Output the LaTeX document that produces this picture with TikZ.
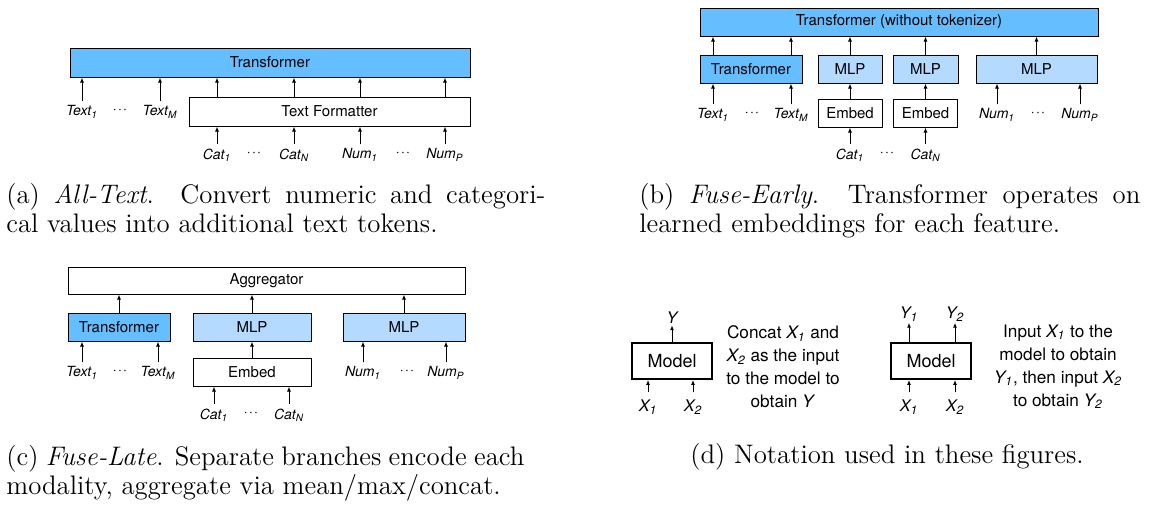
\documentclass[tikz,border=0pt]{standalone}
\usepackage{fontspec}
\newfontfamily\hvfont{TeX Gyre Heros}
\usetikzlibrary{arrows.meta}
\definecolor{tfblue}{RGB}{100,190,255}
\definecolor{mlpblue}{RGB}{180,218,255}
\newcommand{\lab}[2]{#1\textsubscript{#2}}
\newcommand{\dotrow}{·\kern0.6pt·\kern0.6pt·}

\begin{document}
\begin{tikzpicture}[x=0.5pt,y=-0.5pt,
    box/.style={draw,line width=0.5pt,inner sep=0pt,minimum height=14pt,
      font=\hvfont\fontsize{7.5}{9}\selectfont},
    dark/.style={box,fill=tfblue},
    light/.style={box,fill=mlpblue},
    lbl/.style={inner sep=2pt,font=\hvfont\itshape\fontsize{7}{8}\selectfont},
    dts/.style={inner sep=0pt,font=\hvfont\fontsize{7}{8}\selectfont},
    arr/.style={-{Latex[length=2.5pt,width=2pt]},line width=0.5pt},
    model/.style={draw,line width=0.9pt,inner sep=0pt,minimum width=40pt,
      minimum height=18pt,font=\hvfont\fontsize{9}{11}\selectfont},
    var/.style={inner sep=0.5pt,font=\hvfont\itshape\fontsize{8}{9}\selectfont},
    note/.style={align=center,inner sep=0pt,font=\hvfont\fontsize{8.6}{11.5}\selectfont},
    captxt/.style={inner sep=0pt,anchor=base west,font=\fontsize{13.4}{15}\selectfont}
  ]
  \useasboundingbox (0,0) rectangle (1159,504);

  % (a) All-Text
  \node[dark,minimum width=200pt,minimum height=14.5pt] (tfA) at (270,62.5) {Transformer};
  \node[box,minimum width=140.5pt,minimum height=14.5pt] (fmtA) at (329.5,111.5) {Text Formatter};
  \node[lbl] (txA1) at (82,112) {\lab{Text}{1}};
  \node[dts] (dA1) at (120,111) {\dotrow};
  \node[lbl] (txAM) at (160,112) {\lab{Text}{M}};
  \node[lbl] (caA1) at (217,155) {\lab{Cat}{1}};
  \node[dts] (dA2) at (254,154) {\dotrow};
  \node[lbl] (caAN) at (294,155) {\lab{Cat}{N}};
  \node[lbl] (nmA1) at (360,155) {\lab{Num}{1}};
  \node[dts] (dA3) at (403,154) {\dotrow};
  \node[lbl] (nmAP) at (445,155) {\lab{Num}{P}};
  \foreach \n in {txA1,txAM}
    \draw[arr] (\n.north) -- (\n.north |- tfA.south);
  \foreach \n in {caA1,caAN,nmA1,nmAP} {
    \draw[arr] (\n.north) -- (\n.north |- fmtA.south);
    \draw[arr] (\n.north |- fmtA.north) -- (\n.north |- tfA.south);
  }

  % (b) Fuse-Early
  \node[dark,minimum width=199pt] (tfB) at (899,22) {Transformer (without tokenizer)};
  \node[dark,minimum width=51pt] (tfB2) at (751,69) {Transformer};
  \node[light,minimum width=32pt] (mlpB1) at (850,69) {MLP};
  \node[light,minimum width=32.5pt] (mlpB2) at (925.5,69) {MLP};
  \node[light,minimum width=60.5pt] (mlpB3) at (1036.5,69) {MLP};
  \node[box,minimum width=32pt] (embB1) at (850,113) {Embed};
  \node[box,minimum width=32pt] (embB2) at (925.5,113) {Embed};
  \node[lbl] (txB1) at (713,115) {\lab{Text}{1}};
  \node[dts] (dB1) at (752,114) {\dotrow};
  \node[lbl] (txBM) at (791,115) {\lab{Text}{M}};
  \node[lbl] (nmB1) at (997,115) {\lab{Num}{1}};
  \node[dts] (dB2) at (1038,114) {\dotrow};
  \node[lbl] (nmBP) at (1080,115) {\lab{Num}{P}};
  \node[lbl] (caB1) at (850,155) {\lab{Cat}{1}};
  \node[dts] (dB3) at (887,154) {\dotrow};
  \node[lbl] (caBN) at (925.5,155) {\lab{Cat}{N}};
  \foreach \n in {txB1,txBM} {
    \draw[arr] (\n.north) -- (\n.north |- tfB2.south);
    \draw[arr] (\n.north |- tfB2.north) -- (\n.north |- tfB.south);
  }
  \foreach \n in {nmB1,nmBP}
    \draw[arr] (\n.north) -- (\n.north |- mlpB3.south);
  \foreach \m in {mlpB1,mlpB2,mlpB3}
    \draw[arr] (\m.north) -- (\m.north |- tfB.south);
  \draw[arr] (embB1) -- (mlpB1);
  \draw[arr] (embB2) -- (mlpB2);
  \draw[arr] (caB1.north) -- (embB1.south);
  \draw[arr] (caBN.north) -- (embB2.south);

  % (c) Fuse-Late
  \node[box,minimum width=198.5pt,minimum height=13.5pt] (aggC) at (266.5,280.5) {Aggregator};
  \node[dark,minimum width=51pt] (tfC) at (119,327) {Transformer};
  \node[light,minimum width=59pt] (mlpC1) at (252,327) {MLP};
  \node[light,minimum width=61pt] (mlpC2) at (404,327) {MLP};
  \node[box,minimum width=59pt] (embC) at (252,372) {Embed};
  \node[lbl] (txC1) at (82,373) {\lab{Text}{1}};
  \node[dts] (dC1) at (120,372) {\dotrow};
  \node[lbl] (txCM) at (158,373) {\lab{Text}{M}};
  \node[lbl] (nmC1) at (363,373) {\lab{Num}{1}};
  \node[dts] (dC2) at (407,372) {\dotrow};
  \node[lbl] (nmCP) at (446,373) {\lab{Num}{P}};
  \node[lbl] (caC1) at (214,415) {\lab{Cat}{1}};
  \node[dts] (dC3) at (251,414) {\dotrow};
  \node[lbl] (caCN) at (289,415) {\lab{Cat}{N}};
  \foreach \m in {tfC,mlpC1,mlpC2}
    \draw[arr] (\m.north) -- (\m.north |- aggC.south);
  \foreach \n in {txC1,txCM}
    \draw[arr] (\n.north) -- (\n.north |- tfC.south);
  \foreach \n in {nmC1,nmCP}
    \draw[arr] (\n.north) -- (\n.north |- mlpC2.south);
  \foreach \n in {caC1,caCN}
    \draw[arr] (\n.north) -- (\n.north |- embC.south);
  \draw[arr] (embC) -- (mlpC1);

  % (d) notation
  \node[model] (mdlA) at (672,361) {Model};
  \node[var] (yA) at (672,318) {Y};
  \node[var] (xA1) at (648,407) {\lab{X}{1}};
  \node[var] (xA2) at (693,407) {\lab{X}{2}};
  \draw[arr] (mdlA.north) -- (yA.south);
  \foreach \n in {xA1,xA2}
    \draw[arr,shorten <=3pt] (\n.north) -- (\n.north |- mdlA.south);
  \node[note] (noteA) at (783,367) {Concat \textit{\lab{X}{1}} and\\
    \textit{\lab{X}{2}} as the input\\to the model to\\obtain \textit{Y}};

  \node[model] (mdlB) at (931,361) {Model};
  \node[var] (yB1) at (909,314) {\lab{Y}{1}};
  \node[var] (yB2) at (955,314) {\lab{Y}{2}};
  \node[var] (xB1) at (909,407) {\lab{X}{1}};
  \node[var] (xB2) at (955,407) {\lab{X}{2}};
  \foreach \n in {yB1,yB2}
    \draw[arr] (\n.south |- mdlB.north) -- (\n.south);
  \foreach \n in {xB1,xB2}
    \draw[arr,shorten <=3pt] (\n.north) -- (\n.north |- mdlB.south);
  \node[note] (noteB) at (1058,367) {Input \textit{\lab{X}{1}} to the\\
    model to obtain\\\textit{\lab{Y}{1}}, then input \textit{\lab{X}{2}}\\to obtain \textit{\lab{Y}{2}}};

  % captions
  \node[captxt] (capA1) at (6,203) {\hbox to 269.5pt{(a) \textit{All-Text}. Convert numeric and categori-}};
  \node[captxt] (capA2) at (6,232) {cal values into additional text tokens.};
  \node[captxt] (capB1) at (639,203) {\hbox to 250.5pt{(b) \textit{Fuse-Early}. Transformer operates on}};
  \node[captxt] (capB2) at (639,232) {learned embeddings for each feature.};
  \node[captxt] (capC1) at (6,465) {\hbox to 259pt{(c) \textit{Fuse-Late}. Separate branches encode each}};
  \node[captxt] (capC2) at (6,494) {modality, aggregate via mean/max/concat.};
  \node[captxt] (capD) at (690,463) {(d) Notation used in these figures.};
\end{tikzpicture}
\end{document}
